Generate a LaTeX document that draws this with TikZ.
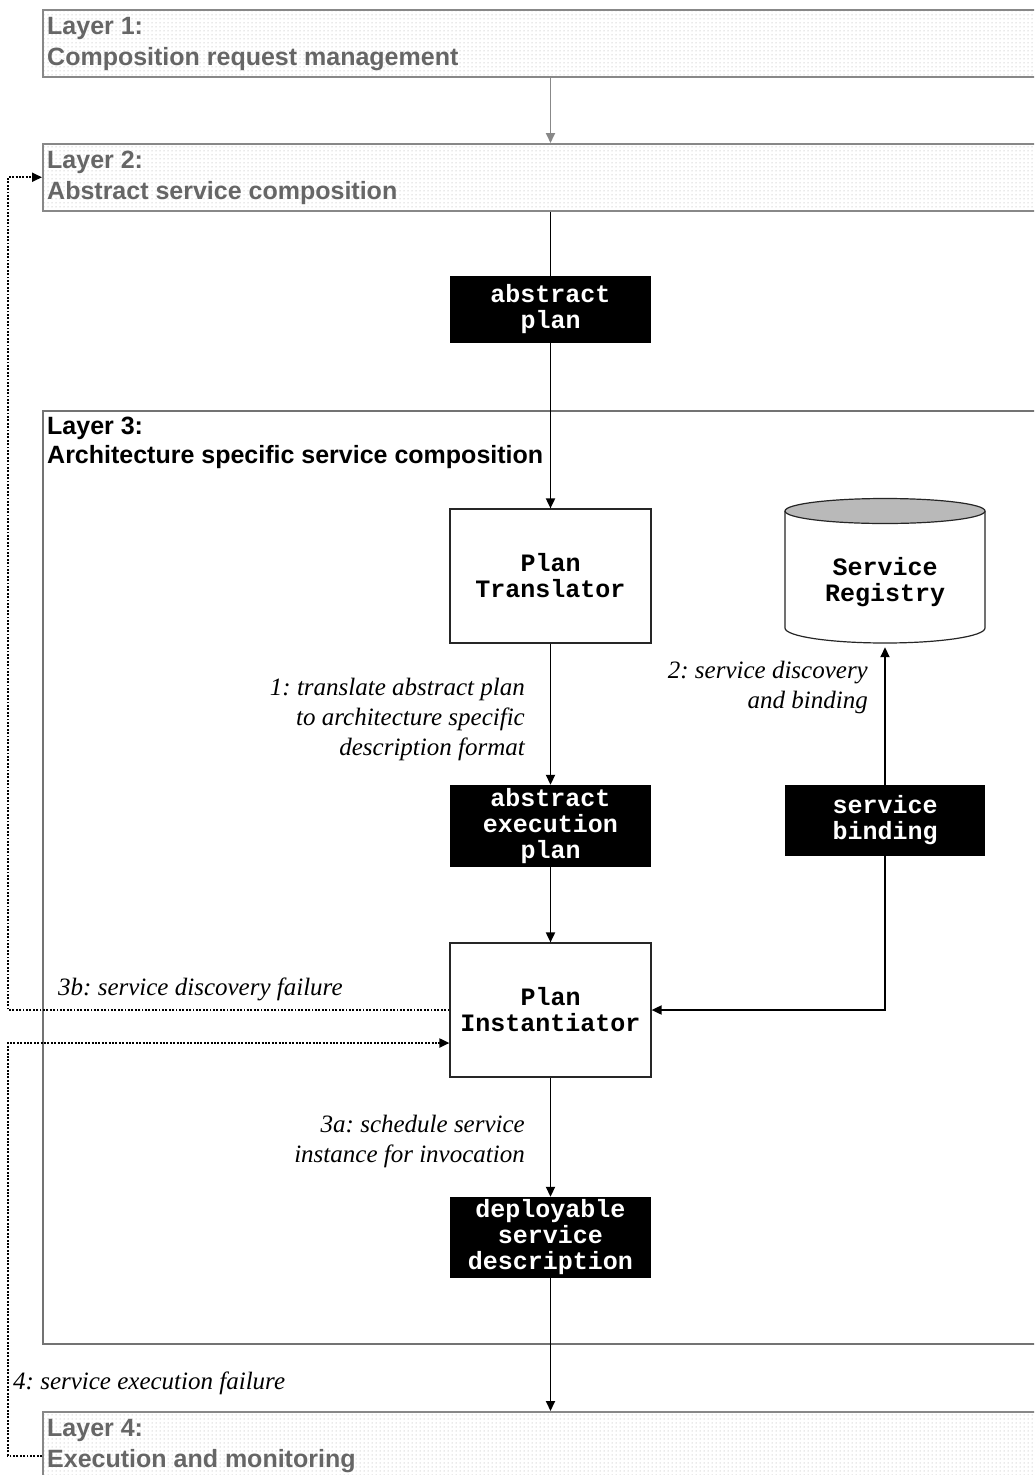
\documentclass[tikz,border=0pt]{standalone}
\usepackage{fontspec}
\setmainfont{Liberation Serif}
\setsansfont{Liberation Sans}
\setmonofont{Liberation Mono}
\usetikzlibrary{arrows.meta,patterns,calc}
\frenchspacing

% sparse dot fill used for the outer layers
\pgfdeclarepatternformonly{sparsedots}{\pgfqpoint{-1pt}{-1pt}}{\pgfqpoint{1pt}{1pt}}{\pgfqpoint{4pt}{4pt}}%
{\pgfpathcircle{\pgfqpoint{0pt}{0pt}}{0.5pt}\pgfusepath{fill}}

\definecolor{layergray}{HTML}{888888}
\definecolor{layertext}{HTML}{666666}

\tikzset{
  layerbox/.style={draw=layergray, line width=1.5pt, pattern=sparsedots, pattern color=black!35,
    minimum width=1010pt, minimum height=67pt, anchor=north west, inner sep=0pt},
  layerlabel/.style={anchor=north west, inner sep=0pt, align=left, text=layertext,
    font=\sffamily\bfseries\fontsize{25}{31}\selectfont},
  proc/.style={draw=black!85, line width=1.2pt, fill=white, minimum width=201pt, minimum height=134pt,
    inner sep=0pt, align=center, font=\ttfamily\bfseries\fontsize{25}{26}\selectfont},
  artefact/.style={fill=black, text=white, minimum width=201pt, inner sep=0pt, align=center,
    font=\ttfamily\bfseries\fontsize{25}{26}\selectfont},
  note/.style={inner sep=0pt, font=\itshape\fontsize{25}{30}\selectfont},
  flow/.style={draw=black, line width=1.8pt},
  tip/.style={-{Triangle[length=10pt,width=9pt]}},
  fail/.style={draw=black, line width=1.9pt, dash pattern=on 1.9pt off 1.5pt}
}

\begin{document}
\begin{tikzpicture}[x=1pt,y=-1pt]
\clip (0,0) rectangle (1034,1475);
\fill[white] (0,0) rectangle (1034,1475);

% layers
\node[layerbox] (l1) at (42,9) {};
\node[layerlabel] (l1t) at (47,17) {Layer 1:\\Composition request management};
\node[layerbox] (l2) at (42,143) {};
\node[layerlabel] (l2t) at (47,151) {Layer 2:\\Abstract service composition};
\node[draw=black!55, line width=1.5pt, fill=white, minimum width=1010pt, minimum height=933pt,
      anchor=north west, inner sep=0pt] (l3) at (42,410) {};
\node[layerlabel, text=black, font=\sffamily\bfseries\fontsize{25}{29}\selectfont] (l3t) at (47,417)
  {Layer 3:\\Architecture specific service composition};
\node[layerbox, minimum height=88pt] (l4) at (42,1411) {};
\node[layerlabel] (l4t) at (47,1419) {Layer 4:\\Execution and monitoring};

% main column
\node[artefact, minimum height=67pt] (ap) at (550.5,309.5) {abstract\\plan};
\node[proc] (pt) at (550.5,576) {Plan\\Translator};
\node[artefact, minimum height=82pt] (aep) at (550.5,826) {abstract\\execution\\plan};
\node[proc] (pi) at (550.5,1010) {Plan\\Instantiator};
\node[artefact, minimum height=81pt] (dsd) at (550.5,1237.5) {deployable\\service\\description};

% registry: cylinder body and shaded lid, then its label node
\draw[black!85, line width=1.2pt, fill=white]
  (785,511) -- (785,628)
  arc[start angle=180, end angle=360, x radius=100pt, y radius=15pt] -- (985,511);
\draw[black!85, line width=1.2pt, fill=gray!55] (885,511) ellipse [x radius=100pt, y radius=12.5pt];
\node[minimum width=200pt, minimum height=130pt, inner sep=0pt, align=center,
      font=\ttfamily\bfseries\fontsize{25}{26}\selectfont] (reg) at (885,582) {Service\\Registry};
\node[artefact, minimum width=200pt, minimum height=71pt] (sb) at (885,820.5) {service\\binding};

% flow
\draw[flow, draw=layergray, tip] (l1.south -| ap) -- (l2.north -| ap);
\draw[flow] (l2.south -| ap) -- (ap.north);
\draw[flow, tip] (ap) -- (pt);
\draw[flow, tip] (pt) -- (aep);
\draw[flow, tip] (aep) -- (pi);
\draw[flow, tip] (sb) -- (reg);
\draw[flow, tip] (sb.south) |- (pi.east);
\draw[flow, tip] (pi) -- (dsd);
\draw[flow, tip] (dsd.south) -- (l4.north -| dsd);

% failure paths
\coordinate (back) at (8,0);
\draw[fail, tip] (pi.west) -- (pi.west -| back) |- (l2.west);
\coordinate (retry) at ($(pi.west)+(0,33)$);
\draw[fail, tip] (l4.west) -- (l4.west -| back) |- (retry);

% step labels
\node[note, align=right, anchor=north east] (n1) at (525,678)
  {1: translate abstract plan\\to architecture specific\\description format};
\node[note, align=right, anchor=north east] (n2) at (868,661) {2: service discovery\\and binding};
\node[note, align=right, anchor=north east] (n3a) at (525,1115) {3a: schedule service\\instance for invocation};
\node[note, anchor=north west] (n3b) at (58,978) {3b: service discovery failure};
\node[note, anchor=north west] (n4) at (13,1372) {4: service execution failure};
\end{tikzpicture}
\end{document}
